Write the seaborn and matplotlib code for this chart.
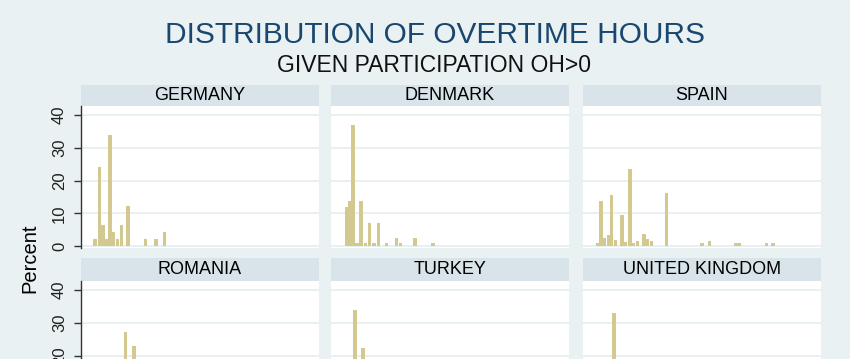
import numpy as np
import matplotlib
matplotlib.use("Agg")
import matplotlib.pyplot as plt
import seaborn as sns

# -----------------------------
# Data
# -----------------------------
countries = ["GERMANY", "DENMARK", "SPAIN", "ROMANIA", "TURKEY", "UNITED KINGDOM"]

germany_hours = [1.0, 2.1, 3.1, 4.1, 5.0, 6.0, 7.0, 8.1, 9.8, 14.5, 17.4, 19.6]
germany_pct = [2.0, 24.1, 6.4, 2.0, 34.0, 4.2, 2.0, 6.4, 12.1, 2.0, 2.0, 4.3]

denmark_hours = [1.3, 2.2, 3.1, 4.2, 5.3, 6.4, 7.6, 8.8, 9.9, 12.1, 14.8, 15.9, 19.8, 24.6]
denmark_pct = [12.0, 13.8, 37.1, 1.0, 13.8, 1.0, 7.1, 1.0, 7.1, 1.0, 2.6, 1.0, 2.6, 1.0]

spain_hours = [1.1, 2.0, 3.0, 4.0, 4.9, 5.9, 7.7, 8.7, 9.8, 10.8, 11.9, 13.6,
               14.6, 15.6, 19.6, 29.2, 31.2, 38.3, 39.3, 46.5, 48.3]
spain_pct = [0.8, 13.6, 2.5, 3.5, 15.6, 1.8, 9.5, 1.2, 23.5, 1.0, 1.5, 3.7,
             2.3, 1.6, 16.2, 1.0, 1.5, 1.0, 1.0, 1.0, 1.0]

romania_hours = [9.1, 11.5]
romania_pct = [27.3, 22.8]

turkey_hours = [3.7, 5.8]
turkey_pct = [33.8, 22.3]

uk_hours = [5.5]
uk_pct = [32.9]

hours = [germany_hours, denmark_hours, spain_hours, romania_hours, turkey_hours, uk_hours]
pcts = [germany_pct, denmark_pct, spain_pct, romania_pct, turkey_pct, uk_pct]

y_ticks = [0, 10, 20, 30, 40]

# -----------------------------
# Style
# -----------------------------
sns.set_theme(style="white")
plt.rcParams["font.family"] = ["Liberation Sans", "DejaVu Sans"]

BG = "#eaf1f3"
STRIP = "#d8e4e9"
GRID = "#e4edf0"
BAR = "#d3c88f"
NAVY = "#1a476f"

W, H = 850, 359
fig = plt.figure(figsize=(W / 100, H / 100), dpi=100, facecolor=BG)

col_left = [81, 331, 583]
col_w = 238
rows = [(85, 106, 248), (258, 281, 423)]  # strip top, plot top, plot bottom (px)


def frac(x0, y0, x1, y1):
    return [x0 / W, 1 - y1 / H, (x1 - x0) / W, (y1 - y0) / H]


for i, name in enumerate(countries):
    r, c = divmod(i, 3)
    s_top, p_top, p_bot = rows[r]
    x0 = col_left[c]

    # strip with country name
    sax = fig.add_axes(frac(x0, s_top, x0 + col_w, p_top))
    sax.set_facecolor(STRIP)
    sax.set_xticks([])
    sax.set_yticks([])
    for sp in sax.spines.values():
        sp.set_visible(False)
    sax.text(0.5, 0.48, name, ha="center", va="center", fontsize=13, color="black",
             transform=sax.transAxes)

    # histogram panel
    ax = fig.add_axes(frac(x0, p_top, x0 + col_w, p_bot))
    ax.set_facecolor("white")
    ax.set_axisbelow(True)
    ax.grid(axis="y", color=GRID, linewidth=1.2)
    ax.grid(axis="x", visible=False)

    x = np.array(hours[i])
    steps = np.diff(np.sort(x))
    native = steps.min() if len(steps) else 1.0
    sns.barplot(x=x, y=pcts[i], native_scale=True, width=0.92 / native,
                color=BAR, saturation=1, errorbar=None, linewidth=0, ax=ax)

    ax.set_xlim(-2.8, 61.2)
    ax.set_ylim(-0.6, 42.75)
    ax.set_xticks([])
    ax.set_yticks(y_ticks)
    ax.set_xlabel("")
    ax.set_ylabel("")
    for sp in ax.spines.values():
        sp.set_visible(False)
    if c == 0:
        ax.spines["left"].set_visible(True)
        ax.spines["left"].set_color("#333333")
        ax.spines["left"].set_linewidth(1)
        ax.tick_params(axis="y", length=5, width=1, color="#333333", pad=5,
                       labelsize=12, labelcolor="#222222", left=True)
        for lab in ax.get_yticklabels():
            lab.set_rotation(90)
            lab.set_va("center")
    else:
        ax.tick_params(axis="y", length=0, labelleft=False)

# -----------------------------
# Titles
# -----------------------------
fig.text(0.512, 1 - 35 / H, "DISTRIBUTION OF OVERTIME HOURS", ha="center", va="center",
         fontsize=21.5, color=NAVY)
fig.text(0.511, 1 - 65 / H, "GIVEN PARTICIPATION OH>0", ha="center", va="center",
         fontsize=16.5, color="#111111")
fig.text(30 / W, 1 - 258 / H, "Percent", ha="center", va="center", rotation=90,
         fontsize=14.5, color="black")

fig.savefig("out.png", dpi=100, facecolor=BG)
